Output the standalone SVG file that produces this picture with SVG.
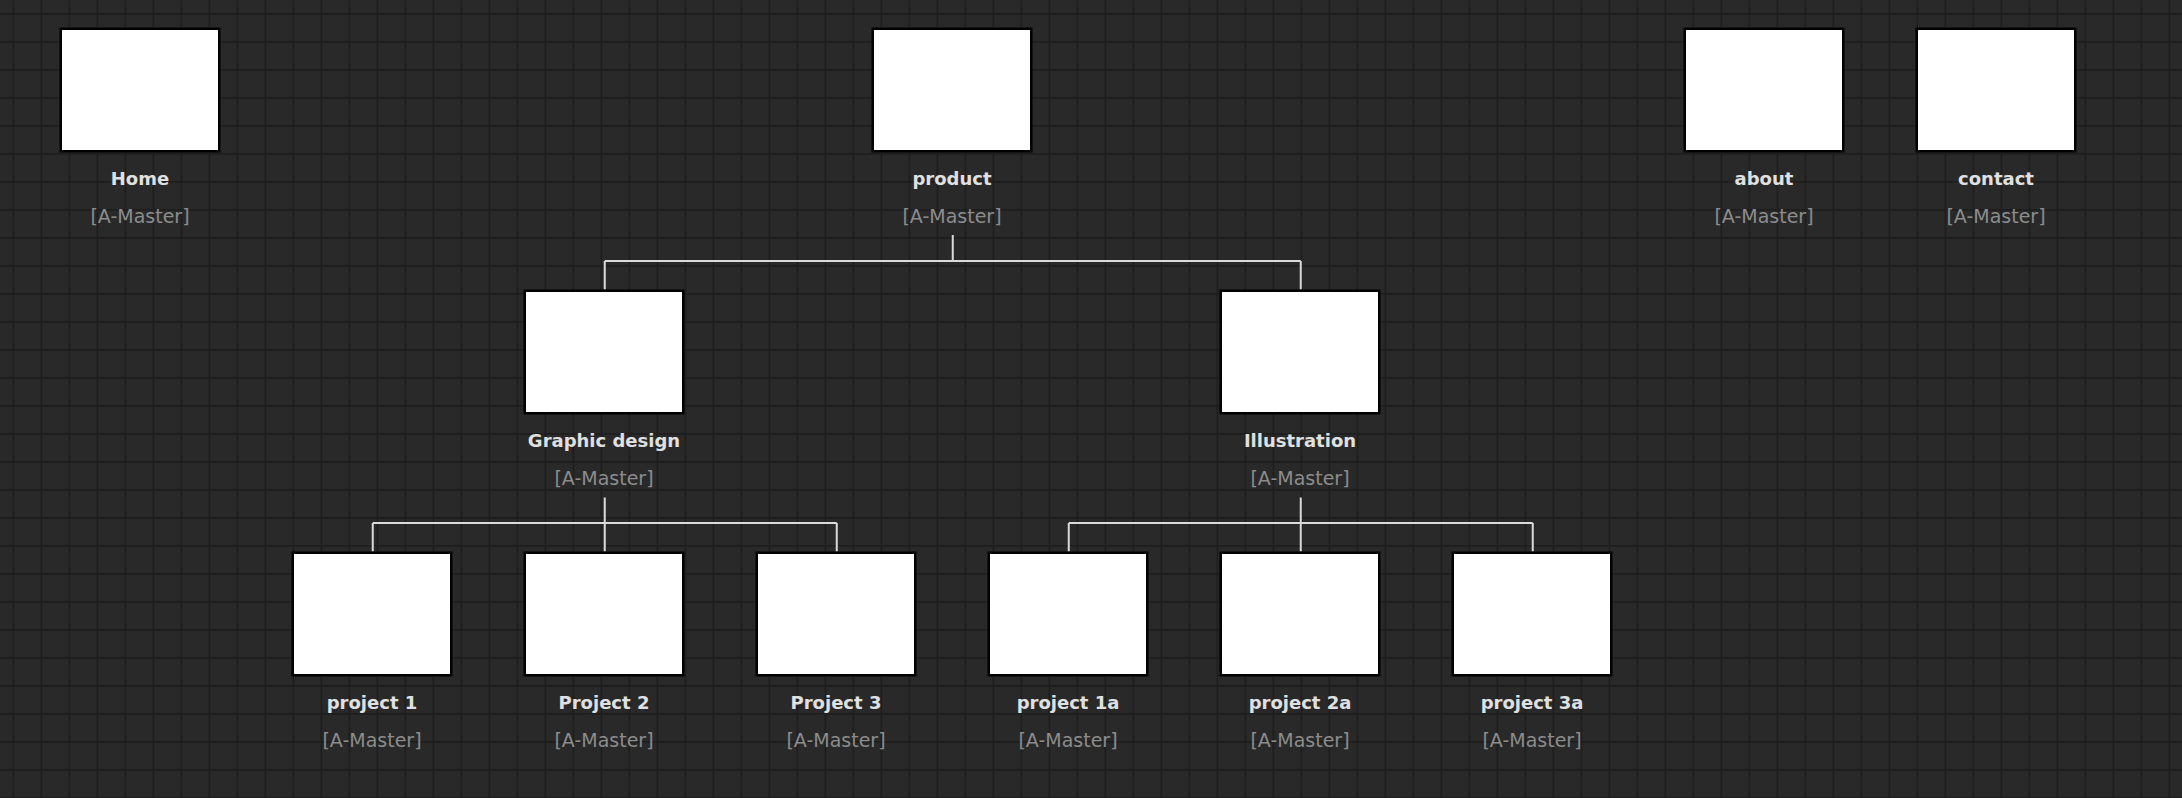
<svg xmlns="http://www.w3.org/2000/svg" width="2182" height="798" viewBox="0 0 2182 798">
<defs>
<pattern id="grid" x="0" y="0" width="28" height="28" patternUnits="userSpaceOnUse">
<rect width="28" height="28" fill="#292929"/>
<rect x="12.5" y="0" width="1.8" height="28" fill="#1e1e1e"/>
<rect x="0" y="13" width="28" height="1.8" fill="#1e1e1e"/>
</pattern>
</defs>
<style>
.box{fill:#ffffff;stroke:#000000;stroke-width:2.5}
.name{font-family:"DejaVu Sans",sans-serif;font-weight:bold;font-size:18px;fill:#e0e0e0;text-anchor:middle}
.master{font-family:"DejaVu Sans",sans-serif;font-size:19px;fill:#8c8c8c;text-anchor:middle}
.conn{fill:none;stroke:#dadada;stroke-width:2}
</style>
<rect width="2182" height="798" fill="url(#grid)"/>
<g id="connectors">
<path class="conn" d="M952.75 235 V261 M604.75 261 H1300.75 M604.75 261 V289.5 M1300.75 261 V289.5"/>
<path class="conn" d="M604.75 497.5 V551.5 M372.75 523 H836.75 M372.75 523 V551.5 M836.75 523 V551.5"/>
<path class="conn" d="M1300.75 497.5 V551.5 M1068.75 523 H1532.75 M1068.75 523 V551.5 M1532.75 523 V551.5"/>
</g>
<g id="home"><rect class="box" x="60.75" y="28.75" width="158.5" height="122.5"/><text class="name" x="140" y="185">Home</text><text class="master" x="140" y="223">[A-Master]</text></g>
<g id="product"><rect class="box" x="872.75" y="28.75" width="158.5" height="122.5"/><text class="name" x="952" y="185">product</text><text class="master" x="952" y="223">[A-Master]</text></g>
<g id="about"><rect class="box" x="1684.75" y="28.75" width="158.5" height="122.5"/><text class="name" x="1764" y="185">about</text><text class="master" x="1764" y="223">[A-Master]</text></g>
<g id="contact"><rect class="box" x="1916.75" y="28.75" width="158.5" height="122.5"/><text class="name" x="1996" y="185">contact</text><text class="master" x="1996" y="223">[A-Master]</text></g>
<g id="graphic-design"><rect class="box" x="524.75" y="290.75" width="158.5" height="122.5"/><text class="name" x="604" y="447">Graphic design</text><text class="master" x="604" y="485">[A-Master]</text></g>
<g id="illustration"><rect class="box" x="1220.75" y="290.75" width="158.5" height="122.5"/><text class="name" x="1300" y="447">Illustration</text><text class="master" x="1300" y="485">[A-Master]</text></g>
<g id="project-1"><rect class="box" x="292.75" y="552.75" width="158.5" height="122.5"/><text class="name" x="372" y="709">project 1</text><text class="master" x="372" y="747">[A-Master]</text></g>
<g id="project-2"><rect class="box" x="524.75" y="552.75" width="158.5" height="122.5"/><text class="name" x="604" y="709">Project 2</text><text class="master" x="604" y="747">[A-Master]</text></g>
<g id="project-3"><rect class="box" x="756.75" y="552.75" width="158.5" height="122.5"/><text class="name" x="836" y="709">Project 3</text><text class="master" x="836" y="747">[A-Master]</text></g>
<g id="project-1a"><rect class="box" x="988.75" y="552.75" width="158.5" height="122.5"/><text class="name" x="1068" y="709">project 1a</text><text class="master" x="1068" y="747">[A-Master]</text></g>
<g id="project-2a"><rect class="box" x="1220.75" y="552.75" width="158.5" height="122.5"/><text class="name" x="1300" y="709">project 2a</text><text class="master" x="1300" y="747">[A-Master]</text></g>
<g id="project-3a"><rect class="box" x="1452.75" y="552.75" width="158.5" height="122.5"/><text class="name" x="1532" y="709">project 3a</text><text class="master" x="1532" y="747">[A-Master]</text></g>
</svg>
